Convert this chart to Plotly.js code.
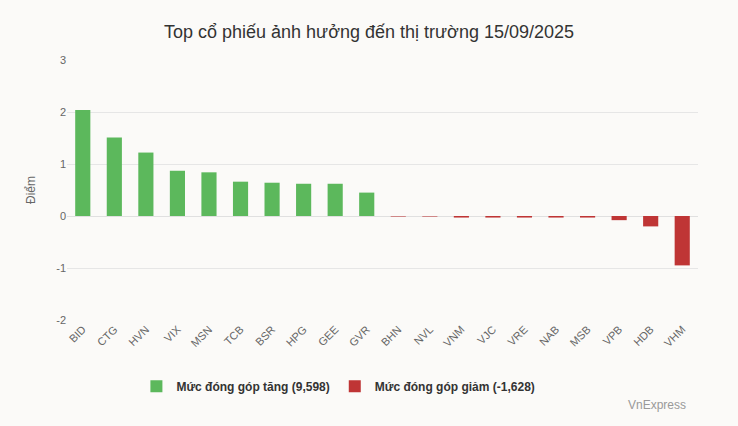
<!DOCTYPE html>
<html>
<head>
<meta charset="utf-8">
<script src="https://cdn.plot.ly/plotly-3.0.1.min.js"></script>
<style>html,body{margin:0;padding:0;background:#fbfaf8;}#chart{width:738px;height:426px;}</style>
</head>
<body>
<div id="chart"></div>
<script>
const categories = ["BID","CTG","HVN","VIX","MSN","TCB","BSR","HPG","GEE","GVR","BHN","NVL","VNM","VJC","VRE","NAB","MSB","VPB","HDB","VHM"];
const upStocks = ["BID","CTG","HVN","VIX","MSN","TCB","BSR","HPG","GEE","GVR"];
const upValues = [2.04, 1.51, 1.22, 0.87, 0.84, 0.66, 0.64, 0.62, 0.62, 0.45];
const downStocks = ["BHN","NVL","VNM","VJC","VRE","NAB","MSB","VPB","HDB","VHM"];
const downValues = [-0.01, -0.01, -0.03, -0.03, -0.03, -0.03, -0.03, -0.08, -0.2, -0.95];
const upName = "Mức đóng góp tăng (9,598)";
const downName = "Mức đóng góp giảm (-1,628)";
const yTicks = [-2, -1, 0, 1, 2, 3];

const traces = [
  {type:"bar", x: upStocks, y: upValues, name: upName, marker:{color:"#5cb85c"}, hoverinfo:"x+y"},
  {type:"bar", x: downStocks, y: downValues, name: downName, marker:{color:"#bf3535"}, hoverinfo:"x+y"}
];
const layout = {
  width:738, height:426,
  paper_bgcolor:"#fbfaf8", plot_bgcolor:"#fbfaf8",
  margin:{l:67, r:40, t:60, b:106},
  font:{family:"Liberation Sans, Arial, sans-serif", color:"#666", size:11},
  title:{text:"Top cổ phiếu ảnh hưởng đến thị trường 15/09/2025", x:0.5, xanchor:"center", y:0.925, yanchor:"middle", font:{size:18, color:"#333", family:"Liberation Sans, Arial, sans-serif"}},
  bargap:0.52, barmode:"overlay",
  xaxis:{type:"category", categoryorder:"array", categoryarray:categories, tickangle:-45, showgrid:false, zeroline:false, showline:false, ticks:"", tickfont:{size:11, color:"#666"}, range:[-0.5, 19.5]},
  yaxis:{range:[-2,3], tickvals:yTicks, ticktext:yTicks.map(String), gridcolor:"#e6e6e6", gridwidth:1, zeroline:true, zerolinecolor:"#e0e0e0", zerolinewidth:1, showline:false, ticks:"", ticklen:0, tickfont:{size:11, color:"#666"}, title:{text:"Điểm", font:{size:12, color:"#666"}, standoff:18}},
  showlegend:true,
  legend:{orientation:"h", x:0.11, xanchor:"left", y:-0.255, yanchor:"middle", font:{size:12, color:"#333", family:"Liberation Sans, Arial, sans-serif", weight:"bold"}, itemwidth:30, traceorder:"normal", bgcolor:"rgba(0,0,0,0)"},
  annotations:[{text:"VnExpress", xref:"paper", yref:"paper", x:(688-67)/631, xanchor:"right", y:-(405-320)/260, yanchor:"middle", showarrow:false, font:{size:12, color:"#999"}}]
};
Plotly.newPlot("chart", traces, layout, {displayModeBar:false, staticPlot:true});
</script>
</body>
</html>
